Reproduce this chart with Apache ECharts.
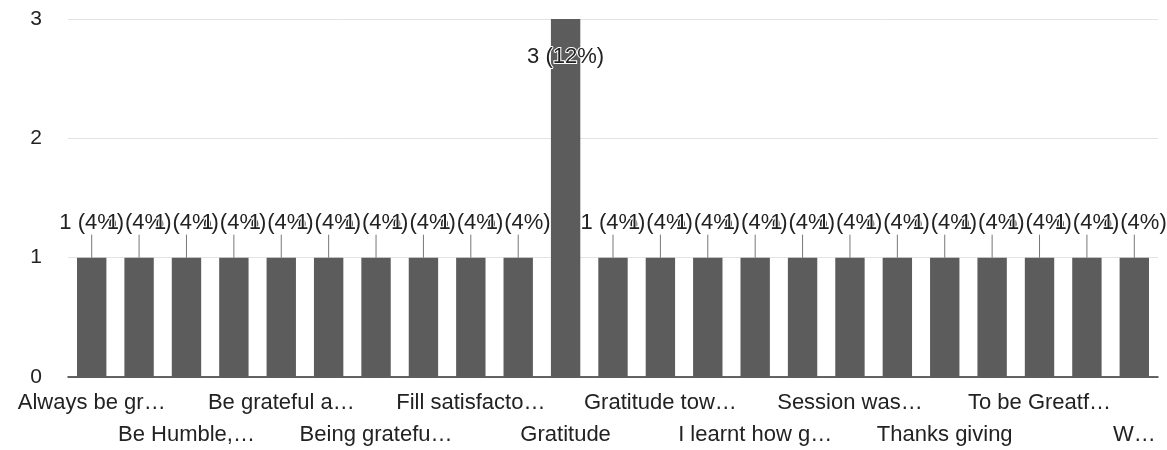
<!DOCTYPE html>
<html>
<head>
<meta charset="utf-8">
<script src="https://cdn.jsdelivr.net/npm/echarts@6/dist/echarts.min.js"></script>
<style>html,body{margin:0;padding:0;background:#fff}#c{width:1167px;height:450px}</style>
</head>
<body>
<div id="c"></div>
<script>
// Categories (alphabetical, as in the form summary); labels shown truncated like the source
const categories = [
  "Always be gr…", "Be Grateful…", "Be Humble,…", "Be Thankful…", "Be grateful a…",
  "Be thankful…", "Being gratefu…", "Count your bl…", "Fill satisfacto…", "Gratefulness…",
  "Gratitude", "Gratitude is…", "Gratitude tow…", "Happiness…", "I learnt how g…",
  "Learnt to be…", "Session was…", "Thankful…", "Thanks giving", "Thankfulness…",
  "To be Greatf…", "To be thankf…", "W…"
];
const counts = [1,1,1,1,1,1,1,1,1,1,3,1,1,1,1,1,1,1,1,1,1,1,1];
const totalResponses = 25;
const yTicks = [0, 1, 2, 3];

const TEXT = '#222222';
const FONT = 'Liberation Sans, Arial, sans-serif';

const seriesData = counts.map((v, i) => {
  const item = { value: v };
  if (v === Math.max(...counts)) {
    item.label = { position: 'insideTop', distance: 27 };
    item.labelLine = { show: false };
  }
  return item;
});

// labels alternate between two rows: every 2nd category is labelled, alternating rows
function rowOf(idx) { return idx % 2 === 0 ? Math.floor(idx / 2) % 2 : -1; }

function makeXAxis(row, margin, showLine) {
  return {
    type: 'category',
    data: categories,
    position: 'bottom',
    axisLine: { show: showLine, lineStyle: { color: '#333333', width: 1.5 } },
    axisTick: { show: false },
    splitLine: { show: false },
    axisLabel: {
      interval: 0,
      showMinLabel: true,
      showMaxLabel: true,
      hideOverlap: false,
      margin: margin,
      color: TEXT,
      fontFamily: FONT,
      fontSize: 22,
      verticalAlign: 'top',
      formatter: function (val) {
        const idx = categories.indexOf(val);
        return rowOf(idx) === row ? val : '';
      }
    }
  };
}

const chart = echarts.init(document.getElementById('c'), null, { renderer: 'canvas' });
chart.setOption({
  animation: false,
  backgroundColor: '#ffffff',
  grid: { left: 68, right: 9, top: 19, bottom: 73, containLabel: false },
  xAxis: [makeXAxis(0, 15, true), makeXAxis(1, 47, false)],
  yAxis: {
    type: 'value',
    min: yTicks[0],
    max: yTicks[yTicks.length - 1],
    interval: 1,
    axisLine: { show: false },
    axisTick: { show: false },
    axisLabel: { color: TEXT, fontFamily: FONT, fontSize: 21, margin: 26, showMinLabel: true, showMaxLabel: true },
    splitLine: { show: true, lineStyle: { color: '#e3e3e3', width: 1 } }
  },
  series: [{
    type: 'bar',
    xAxisIndex: 0,
    data: seriesData,
    barWidth: '62%',
    itemStyle: { color: '#5c5c5c' },
    label: {
      show: true,
      position: 'top',
      distance: 4,
      color: TEXT,
      fontFamily: FONT,
      fontSize: 22,
      textBorderColor: '#ffffff',
      textBorderWidth: 2,
      formatter: function (p) {
        return p.value + ' (' + Math.round(p.value / totalResponses * 100) + '%)';
      }
    },
    labelLayout: function (params) {
      if (counts[params.dataIndex] === Math.max(...counts)) return {};
      return { dy: -20 };
    },
    labelLine: { show: true, lineStyle: { color: '#777777', width: 1 } }
  }]
});
</script>
</body>
</html>
